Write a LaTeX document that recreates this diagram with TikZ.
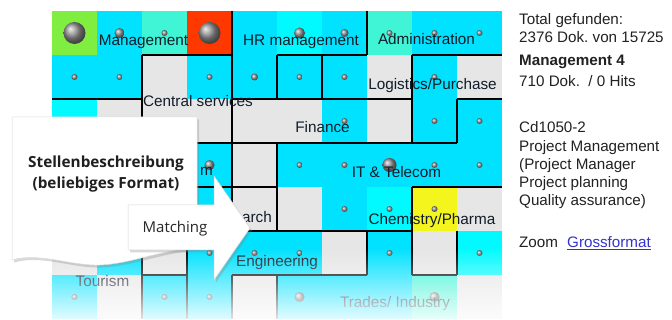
\documentclass[tikz,border=0pt]{standalone}
\usepackage{fontspec}
\setmainfont{Liberation Sans}
\newfontfamily\osans{Open Sans}
\usetikzlibrary{fadings,shadows}
\frenchspacing
\definecolor{cy}{RGB}{0,226,255}
\definecolor{bc}{RGB}{0,250,255}
\definecolor{aq}{RGB}{64,244,214}
\definecolor{gr}{RGB}{230,230,230}
\definecolor{ge}{RGB}{128,238,64}
\definecolor{rd}{RGB}{255,56,0}
\definecolor{ye}{RGB}{245,245,30}
\definecolor{lbl}{RGB}{18,28,42}
\definecolor{lnk}{RGB}{51,51,204}
\tikzfading[name=gridfade, top color=transparent!100, bottom color=transparent!0]
\begin{document}
\begin{tikzpicture}[x=1pt,y=-1pt,
  lab/.style={font=\fontsize{15.3}{18}\selectfont, text=lbl, inner sep=0pt, anchor=base},
  info/.style={font=\fontsize{15.2}{18}\selectfont, text=black!87, inner sep=0pt, anchor=base west},
  capf/.style={font=\osans\bfseries\fontsize{15.3}{18}\selectfont, text=black!88, inner sep=0pt, anchor=base},
  border/.style={line width=2pt, black, line cap=square},
  ball/.style={ball color=gray!85},
  paper/.style={fill=white, draw=gray!30, line width=0.5pt,
    drop shadow={shadow xshift=2pt, shadow yshift=-2.5pt, opacity=0.3}}]
\useasboundingbox (0,0) rectangle (672,320);
\begin{scope}[shift={(52,11)}, x=45pt, y=-44pt]
  \foreach \row [count=\j from 0] in {
    {ge,cy,aq,rd,cy,bc,cy,aq,cy,cy},
    {cy,cy,gr,cy,cy,cy,cy,gr,cy,gr},
    {bc,gr,gr,gr,gr,gr,cy,gr,cy,cy},
    {gr,gr,gr,cy,gr,cy,cy,cy,cy,cy},
    {gr,gr,cy,cy,gr,gr,cy,bc,ye,gr},
    {gr,cy,gr,cy,cy,cy,gr,cy,gr,bc},
    {cy,gr,cy,cy,gr,cy,cy,cy,aq,gr}}
  { \foreach \c [count=\i from 0] in \row { \fill[\c] (\i,\j) rectangle ++(1.01,1.01); } }
  \draw[border] (4,0)--(4,5) (2,1)--(4,1) (2,1)--(2,7) (0,2)--(2,2)
    (3,3)--(4,3) (3,4)--(5,4) (4,2)--(8,2) (5,1)--(5,2) (6,1)--(6,2)
    (5,1)--(7,1) (7,0)--(7,1) (8,1)--(10,1) (8,1)--(8,3) (9,2)--(10,2)
    (9,2)--(9,3) (4,3)--(9,3) (5,3)--(5,5) (8,4)--(10,4) (8,4)--(8,6)
    (4,5)--(8,5) (9,5)--(9,6) (8,6)--(9,6) (7,5)--(7,6) (4,6)--(7,6)
    (4,6)--(4,7) (3,5)--(3,7) (2,6)--(3,6) (5,6)--(5,7);
  \foreach \i/\j/\r in {0/0/11,1/0/5,2/0/3,3/0/11,5/0/5.5,6/0/4,7/0/3,8/0/3,9/0/3,
      0/1/3,1/1/3,3/1/3,4/1/3.5,5/1/3,6/1/3,8/1/3,
      6/2/3,8/2/3,9/2/3,
      3/3/5,5/3/3,6/3/3,7/3/7,8/3/3,9/3/3,
      6/4/3,7/4/3,8/4/3,
      3/5/3,4/5/3,5/5/3,7/5/3,9/5/3,
      0/6/3,2/6/3,3/6/3,5/6/5,8/6/5}
    \shade[ball] (\i+0.5,\j+0.5) circle[radius=\r pt];
\end{scope}
\node[lab] (lMgmt) at (143.5,46) {Management};
\node[lab] (lHR) at (301,45.5) {HR management};
\node[lab] (lAdm) at (426.5,45) {Administration};
\node[lab] (lLog) at (432.5,90) {Logistics/Purchase};
\node[lab] (lCen) at (198,107) {Central services};
\node[lab] (lFin) at (322.5,133) {Finance};
\node[lab] (lIT) at (396.5,178) {IT \& Telecom};
\node[lab, anchor=base east] (lM) at (213,176) {m};
\node[lab, anchor=base east] (lRes) at (272,223) {arch};
\node[lab] (lChem) at (432,225) {Chemistry/Pharma};
\node[lab] (lEng) at (277,267) {Engineering};
\node[lab] (lTour) at (102.5,287) {Tourism};
\node[lab] (lTrade) at (395,308) {Trades/ Industry};
% fade of the lower rows
\fill[white, path fading=gridfade] (45,248) rectangle (506,328);
% callout document
\path[paper] (12,117) -- (197,117) -- (197,248)
  .. controls (160,250) and (130,264) .. (100,265)
  .. controls (70,266) and (40,252) .. (12,260) -- cycle;
% matching arrow
\path[paper] (128,205) -- (214,205) -- (214,176) -- (250,228) -- (214,280)
  -- (214,250) -- (128,250) -- cycle;
\node[capf] (cap1) at (106,168) {Stellenbeschreibung};
\node[capf] (cap2) at (106,189) {(beliebiges Format)};
\node[font=\osans\fontsize{15}{18}\selectfont, text=black!85, inner sep=0pt, anchor=base] (match) at (175,233) {Matching};
% info panel
\node[info] (t1) at (519,25) {Total gefunden:};
\node[info] (t2) at (519,43) {2376 Dok. von 15725};
\node[info, font=\bfseries\fontsize{15.2}{18}\selectfont] (t3) at (519,66) {Management 4};
\node[info] (t4) at (519,87) {710 Dok.\ \ / 0 Hits};
\node[info] (t5) at (519,133) {Cd1050-2};
\node[info] (t6) at (519,152) {Project Management};
\node[info] (t7) at (519,170) {(Project Manager};
\node[info] (t8) at (519,188) {Project planning};
\node[info] (t9) at (519,206) {Quality assurance)};
\node[info] (t10) at (519,248) {Zoom};
\node[info, text=lnk] (t11) at (567,248) {\underline{Grossformat}};
\end{tikzpicture}
\end{document}
